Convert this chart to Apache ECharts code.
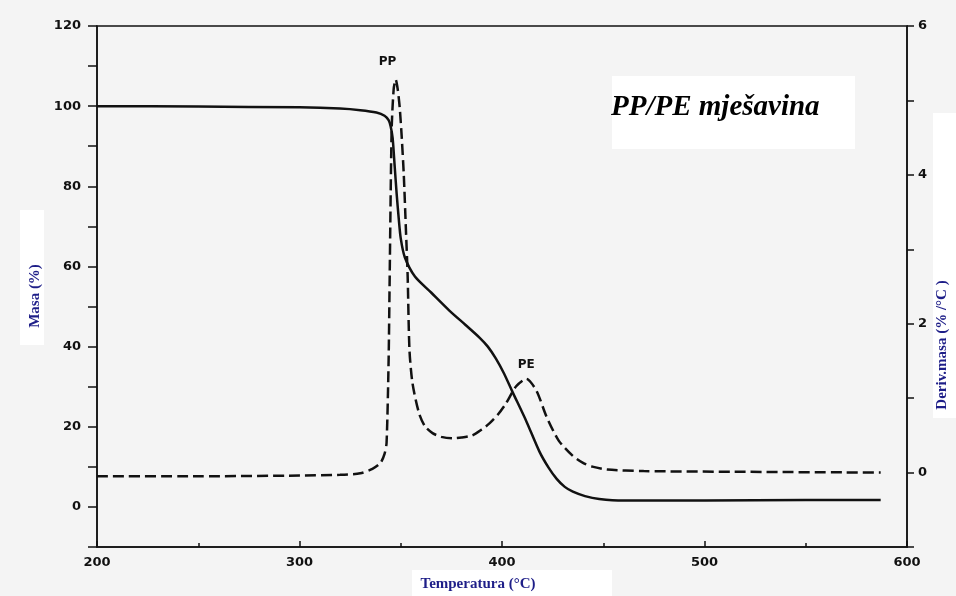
<!DOCTYPE html>
<html>
<head>
<meta charset="utf-8">
<script src="https://cdn.jsdelivr.net/npm/echarts@6/dist/echarts.min.js"></script>
<style>
html,body{margin:0;padding:0;background:#f4f4f4;}
#c{width:956px;height:596px;}
</style>
</head>
<body>
<div id="c"></div>
<script>
// Thermogravimetric (mass) curve, left axis
const tgTemp = [200, 250, 300, 320, 330, 338, 342, 344, 345, 346, 347, 348, 349, 350, 352, 357, 365, 374, 382, 389, 393, 397, 401, 405, 412, 418.5, 423, 427, 431, 435, 441, 448, 460, 500, 550, 587];
const tgMass = [100, 99.9, 99.7, 99.4, 99, 98.4, 97.6, 96.5, 95, 92, 85, 78, 72, 67, 62.3, 57.5, 53.5, 49, 45.4, 42.2, 40.0, 37.0, 33.3, 28.9, 21.4, 13.8, 9.8, 7, 5, 3.8, 2.7, 2.0, 1.6, 1.6, 1.7, 1.7];
// Derivative curve, right axis
const dtgTemp = [200, 250, 300, 320, 330, 336, 340, 342, 343, 344, 344.5, 345.5, 346.5, 347.5, 348.5, 349.5, 350.5, 351.5, 352.5, 353.4, 354.3, 355.8, 359, 362, 365.7, 370, 375.5, 380, 385.4, 390, 393.8, 398, 402, 407, 412, 417, 422, 428, 434.7, 440, 444.6, 452, 470, 520, 587];
const dtgRate = [-0.05, -0.05, -0.04, -0.03, -0.01, 0.05, 0.13, 0.25, 0.4, 1.5, 2.55, 4.6, 5.15, 5.28, 5.15, 4.9, 4.5, 4.0, 3.3, 2.65, 1.65, 1.2, 0.8, 0.62, 0.53, 0.48, 0.46, 0.47, 0.5, 0.58, 0.66, 0.78, 0.93, 1.16, 1.26, 1.1, 0.75, 0.43, 0.23, 0.13, 0.08, 0.04, 0.02, 0.01, 0.0];
// Peak annotations [label, temperature, rate]
const peakLabels = ['PP', 'PE'];
const peakTemps = [343.5, 412];
const peakRates = [5.52, 1.45];
// Tick labels
const xTicks = [200, 300, 400, 500, 600];
const leftTicks = [0, 20, 40, 60, 80, 100, 120];
const rightTicks = [0, 2, 4, 6];

const navy = '#1e1e88';
const chart = echarts.init(document.getElementById('c'), null, {renderer: 'canvas'});
const tickFont = {fontFamily: 'DejaVu Sans', fontWeight: 'bold', fontSize: 13, color: '#111'};

chart.setOption({
  backgroundColor: '#f4f4f4',
  animation: false,
  grid: {left: 97, right: 49, top: 26, bottom: 49, show: true, borderColor: '#111', borderWidth: 1.5, backgroundColor: 'transparent'},
  xAxis: {
    type: 'value', min: 200, max: 600, interval: 100,
    axisLine: {onZero: false, lineStyle: {color: '#111', width: 1.5}},
    axisTick: {inside: true, length: 6, lineStyle: {color: '#111', width: 1.5}},
    minorTick: {show: true, splitNumber: 2, length: 4, lineStyle: {color: '#111', width: 1.5}},
    splitLine: {show: false},
    axisLabel: Object.assign({margin: 9, formatter: v => xTicks.includes(v) ? String(v) : ''}, tickFont)
  },
  yAxis: [{
    type: 'value', min: -10, max: 120, interval: 10, position: 'left',
    axisLine: {show: true, onZero: false, lineStyle: {color: '#111', width: 1.5}},
    axisTick: {show: true, length: 9, lineStyle: {color: '#111', width: 1.5}},
    splitLine: {show: false},
    axisLabel: Object.assign({margin: 16, formatter: v => leftTicks.includes(v) ? String(v) : ''}, tickFont)
  }, {
    type: 'value', min: -1, max: 6, interval: 1, position: 'right',
    axisLine: {show: true, onZero: false, lineStyle: {color: '#111', width: 1.5}},
    axisTick: {show: true, length: 7, lineStyle: {color: '#111', width: 1.5}},
    splitLine: {show: false},
    axisLabel: Object.assign({margin: 11, formatter: v => rightTicks.includes(v) ? String(v) : ''}, tickFont)
  }],
  series: [{
    type: 'line', name: 'Masa', yAxisIndex: 0,
    data: tgTemp.map((t, i) => [t, tgMass[i]]),
    showSymbol: false, smooth: 0.25,
    lineStyle: {color: '#111', width: 2.5}
  }, {
    type: 'line', name: 'Deriv.masa', yAxisIndex: 1,
    data: dtgTemp.map((t, i) => [t, dtgRate[i]]),
    showSymbol: false, smooth: 0.25,
    lineStyle: {color: '#111', width: 2.5, type: [11, 5]},
    markPoint: {
      symbol: 'circle', symbolSize: 1,
      itemStyle: {color: 'rgba(0,0,0,0)'},
      label: {show: true, position: 'inside', formatter: p => p.name, fontFamily: 'DejaVu Sans', fontWeight: 'bold', fontSize: 12, color: '#111'},
      data: peakLabels.map((n, i) => ({name: n, coord: [peakTemps[i], peakRates[i]]}))
    }
  }],
  graphic: [
    {type: 'rect', shape: {x: 612, y: 76, width: 243, height: 73}, style: {fill: '#ffffff'}, z: -1},
    {type: 'text', x: 611, y: 108, style: {text: 'PP/PE mješavina', font: 'italic bold 29px "Liberation Serif"', fill: '#000', align: 'left', verticalAlign: 'middle'}},
    {type: 'rect', shape: {x: 20, y: 210, width: 24, height: 135}, style: {fill: '#ffffff'}, z: -1},
    {type: 'text', x: 35, y: 296, rotation: Math.PI / 2, style: {text: 'Masa (%)', font: 'bold 15px "Liberation Serif"', fill: navy, align: 'center', verticalAlign: 'middle'}},
    {type: 'rect', shape: {x: 933, y: 113, width: 23, height: 305}, style: {fill: '#ffffff'}, z: -1},
    {type: 'text', x: 942, y: 345, rotation: Math.PI / 2, style: {text: 'Deriv.masa (% /°C )', font: 'bold 15px "Liberation Serif"', fill: navy, align: 'center', verticalAlign: 'middle'}},
    {type: 'rect', shape: {x: 412, y: 570, width: 200, height: 26}, style: {fill: '#ffffff'}, z: -1},
    {type: 'text', x: 478, y: 584, style: {text: 'Temperatura (°C)', font: 'bold 15px "Liberation Serif"', fill: navy, align: 'center', verticalAlign: 'middle'}}
  ]
});
</script>
</body>
</html>
